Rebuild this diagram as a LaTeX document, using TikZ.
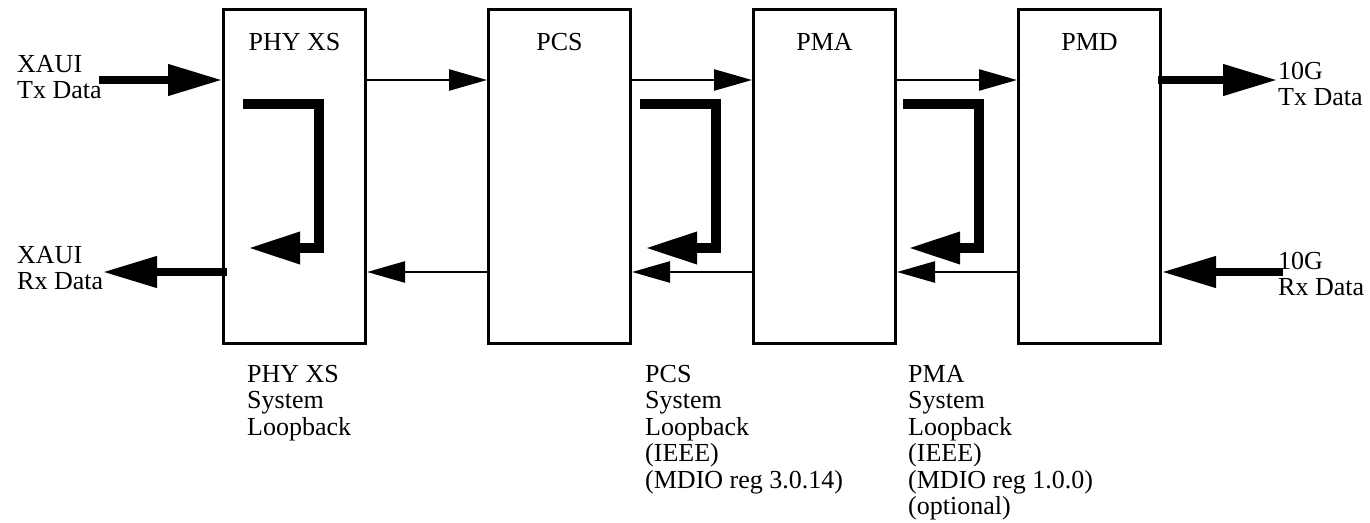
\documentclass[tikz,border=0pt]{standalone}
\usepackage{fontspec}
\setmainfont{Liberation Serif}
\usetikzlibrary{arrows.meta, positioning}

\begin{document}
\begin{tikzpicture}[x=1pt, y=-1pt,
    blk/.style={draw, line width=3pt, minimum width=142pt, minimum height=334pt, inner sep=0pt},
    ttl/.style={inner sep=0pt, font=\fontsize{26}{26.5}\selectfont},
    lbl/.style={inner sep=0pt, align=left, anchor=north west, font=\fontsize{26}{26.5}\selectfont},
    sig/.style={line width=2.5pt, -{Triangle[length=38pt, width=21pt]}},
    bus/.style={line width=7.5pt, -{Triangle[length=54pt, width=30pt]}},
    lpbk/.style={line width=9.5pt, -{Triangle[length=52pt, width=30pt]}}]
    \useasboundingbox (0,0) rectangle (1370,522);

    % blocks
    \node[blk] (phy) at (294.5,176.5) {};
    \node[blk, right=120pt of phy] (pcs) {};
    \node[blk, right=120pt of pcs] (pma) {};
    \node[blk, right=120pt of pma] (pmd) {};
    \node[ttl, below=25pt of phy.north] (phyt) {PHY XS};
    \node[ttl, below=25pt of pcs.north] (pcst) {PCS};
    \node[ttl, below=25pt of pma.north] (pmat) {PMA};
    \node[ttl, below=25pt of pmd.north] (pmdt) {PMD};

    % outside labels
    \node[lbl] (xauitx) at (17,55) {XAUI\\Tx Data};
    \node[lbl] (xauirx) at (17,246) {XAUI\\Rx Data};
    \node[lbl] (tengtx) at (1278,62) {10G\\Tx Data};
    \node[lbl] (tengrx) at (1278,252) {10G\\Rx Data};
    \node[lbl] (phylbl) at (247,365) {PHY XS\\System\\Loopback};
    \node[lbl] (pcslbl) at (645,365) {PCS\\System\\Loopback\\(IEEE)\\(MDIO reg 3.0.14)};
    \node[lbl] (pmalbl) at (908,365) {PMA\\System\\Loopback\\(IEEE)\\(MDIO reg 1.0.0)\\(optional)};

    % free ends
    \coordinate (xauitxs) at (99,80);
    \coordinate (xauirxe) at (103,272);
    \coordinate (tengtxe) at (1277,80);
    \coordinate (tengrxs) at (1283,272);

    % data path
    \draw[bus] (xauitxs) -- ([yshift=-72pt]phy.north west);
    \draw[sig] ([yshift=-72pt]phy.north east) -- ([yshift=-72pt]pcs.north west);
    \draw[sig] ([yshift=-72pt]pcs.north east) -- ([yshift=-72pt]pma.north west);
    \draw[sig] ([yshift=-72pt]pma.north east) -- ([yshift=-72pt]pmd.north west);
    \draw[bus] ([xshift=-4pt,yshift=-72pt]pmd.north east) -- (tengtxe);
    \draw[bus] (tengrxs) -- ([yshift=73pt]pmd.south east);
    \draw[sig] ([yshift=73pt]pmd.south west) -- ([yshift=73pt]pma.south east);
    \draw[sig] ([yshift=73pt]pma.south west) -- ([yshift=73pt]pcs.south east);
    \draw[sig] ([yshift=73pt]pcs.south west) -- ([yshift=73pt]phy.south east);
    \draw[bus] ([xshift=5pt,yshift=73pt]phy.south west) -- (xauirxe);

    % loopbacks
    \coordinate (phyin) at (243,104);
    \coordinate (phyturn) at (319,248);
    \coordinate (phyout) at (248,248);
    \coordinate (pcsin) at (640,104);
    \coordinate (pcsturn) at (716,248);
    \coordinate (pcsout) at (645,248);
    \coordinate (pmain) at (903,104);
    \coordinate (pmaturn) at (979,248);
    \coordinate (pmaout) at (908,248);
    \draw[lpbk] (phyin) -| (phyturn) -- (phyout);
    \draw[lpbk] (pcsin) -| (pcsturn) -- (pcsout);
    \draw[lpbk] (pmain) -| (pmaturn) -- (pmaout);
\end{tikzpicture}
\end{document}
